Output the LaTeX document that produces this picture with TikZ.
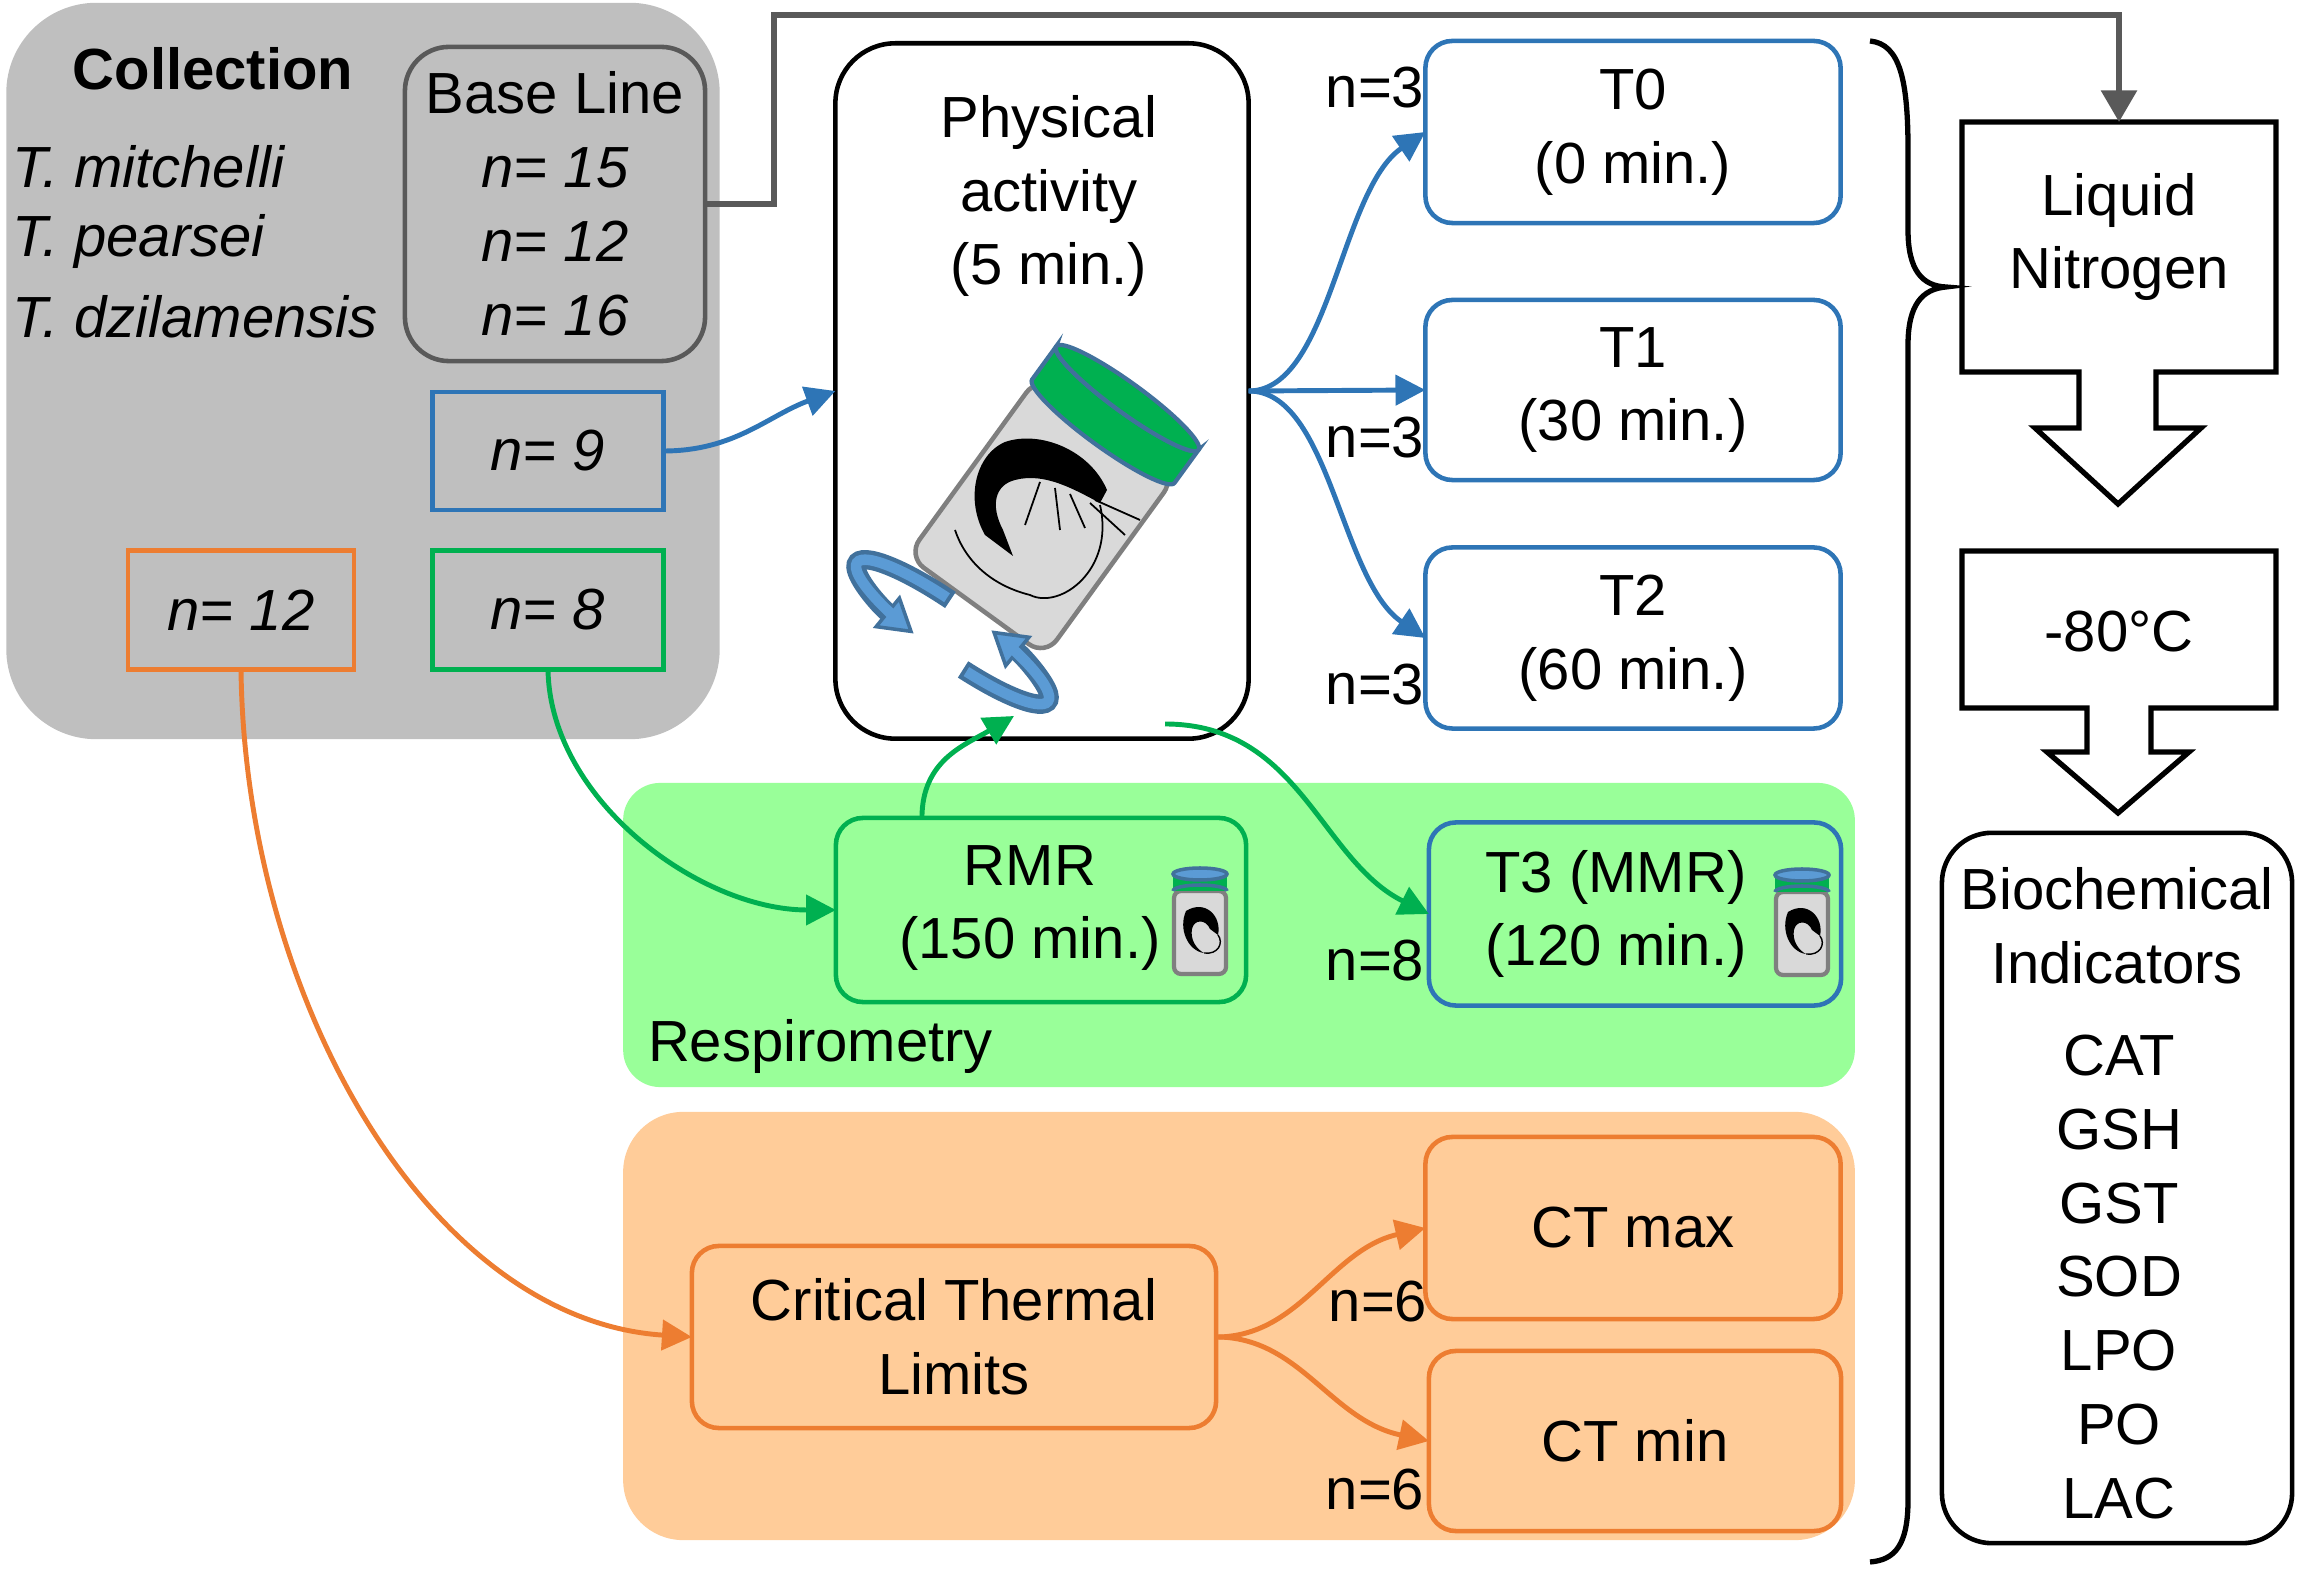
\documentclass[tikz,border=0pt]{standalone}
\usepackage{fontspec}
\setmainfont{Liberation Sans}
\setsansfont{Liberation Sans}
\usetikzlibrary{arrows.meta}
\definecolor{boxgray}{HTML}{BFBFBF}
\definecolor{linegray}{HTML}{595959}
\definecolor{ablue}{HTML}{2E75B6}
\definecolor{agreen}{HTML}{00B050}
\definecolor{aorange}{HTML}{ED7D31}
\definecolor{respgreen}{HTML}{99FF99}
\definecolor{ctorange}{HTML}{FFCC99}
\definecolor{jargray}{HTML}{D9D9D9}
\definecolor{jarrim}{HTML}{7F7F7F}
\definecolor{ringblue}{HTML}{5B9BD5}
\definecolor{ringedge}{HTML}{41719C}
\newcommand{\figfont}{\fontsize{16.5}{21}\selectfont}
\tikzset{every picture/.style={/utils/exec={\sffamily}},
	tbox/.style={draw=#1, line width=1.3pt, rounded corners=0.27cm, align=center},
	nbox/.style={draw=#1, line width=1.3pt, minimum width=2.31cm, minimum height=1.18cm},
	area/.style={fill=#1, draw=none},
	flow/.style={line width=1.4pt, draw=#1, -{Triangle[length=8.5pt,width=8.5pt]}},
	blockarrow/.style={line width=1.5pt, line join=miter},
	ringout/.style={ringedge, line width=5.5pt, -{Triangle[length=10pt,width=12pt,line width=1pt,fill=ringblue]}},
	ringin/.style={ringblue, line width=3pt},
	minijar/.pic={
		\draw[jarrim, fill=jargray, line width=1.2pt, rounded corners=2pt] (-26,-30) rectangle (26,53);
		\fill[agreen] (-27,-47) rectangle (27,-30);
		\draw[ringedge, line width=1pt] (-27,-30) arc[start angle=180, end angle=360, x radius=27, y radius=6];
		\draw[ringedge, fill=ringblue, line width=1pt] (0,-47) ellipse[x radius=27, y radius=6];
		\fill[black] (-14,-10) .. controls (5,-22) and (22,-5) .. (18,14) -- (10,8) .. controls (6,-2) and (-6,-2) .. (-8,8) .. controls (-10,18) and (-4,28) .. (4,32) .. controls (-12,30) and (-22,8) .. cycle;
		\draw[black, line width=0.4pt] (4,32) .. controls (18,34) and (24,22) .. (18,14);
	}
}

\begin{document}
\begin{tikzpicture}[x=0.01cm, y=-0.01cm, font=\figfont, every node/.style={inner sep=0pt, outer sep=0pt}]
		\useasboundingbox (0,0) rectangle (2303,1574);

		% collection
		\node[area=boxgray, rounded corners=0.9cm, minimum width=7.13cm, minimum height=7.36cm] (coll) at (363,371) {};
		\node (colltitle) at (213,69) {\textbf{Collection}};
		\node[anchor=west] (mitch) at (12,167) {\textit{T. mitchelli}};
		\node[anchor=west] (pears) at (12,242) {\textit{T. pearsei}};
		\node[anchor=west] (dzila) at (12,317) {\textit{T. dzilamensis}};
		\node[tbox=linegray, rounded corners=0.44cm, minimum width=3cm, minimum height=3.14cm] (base) at (555,204) {Base Line\\\textit{n= 15}\\\textit{n= 12}\\\textit{n= 16}};
		\node[nbox=ablue] (nnine) at (548,451) {\textit{n= 9}};
		\node[nbox=aorange, minimum width=2.26cm, minimum height=1.19cm] (ntwelve) at (241,610) {\textit{n= 12}};
		\node[nbox=agreen, minimum height=1.19cm] (neight) at (548,610) {\textit{n= 8}};

		% fondi
		\node[area=respgreen, rounded corners=0.37cm, minimum width=12.31cm, minimum height=3.04cm] (resp) at (1239,935) {};
		\node[anchor=west] (resplbl) at (648,1047) {Respirometry};
		\node[area=ctorange, rounded corners=0.6cm, minimum width=12.31cm, minimum height=4.28cm] (ctarea) at (1239,1326) {};

		% physical activity
		\node[tbox=black, rounded corners=0.6cm, minimum width=4.13cm, minimum height=6.95cm] (phys) at (1042,391) {};
		\node[align=center] (physlbl) at (1049,196) {Physical\\activity\\(5 min.)};

		% jar
		\begin{scope}[shift={(1041,517)}, rotate=-36, x=0.01cm, y=0.01cm]
			\draw[jarrim, fill=jargray, line width=1.3pt, rounded corners=0.2cm] (-85,-110) rectangle (85,112);
			\draw[ringedge, fill=agreen, line width=1.2pt] (-88,106) -- (-88,147) arc[start angle=180, end angle=360, x radius=88, y radius=15] -- (88,106) arc[start angle=0, end angle=-180, x radius=88, y radius=15] -- cycle;
			\draw[ringedge, fill=agreen, line width=1.2pt] (0,147) ellipse[x radius=88, y radius=15];
		\end{scope}
		% shrimp
		\fill[black] (1107,490) .. controls (1090,450) and (1040,430) .. (1005,442) .. controls (975,455) and (965,500) .. (985,535) -- (1013,556) -- (1003,530) .. controls (990,505) and (995,485) .. (1015,480) .. controls (1045,472) and (1075,490) .. (1100,503) -- cycle;
		\draw[black, line width=0.5pt] (1100,505) .. controls (1115,570) and (1060,610) .. (1030,595) .. controls (990,585) and (965,560) .. (955,530);
		\draw[black, line width=0.5pt] (1095,500) -- (1140,520) (1090,503) -- (1125,535) (1040,482) -- (1025,525) (1055,488) -- (1060,530) (1070,494) -- (1085,528) (1020,468) -- (1040,455) (1050,470) -- (1060,450);
		\begin{scope}[shift={(1041,517)}, rotate=-36, x=0.01cm, y=0.01cm]
			\draw[ringout] (-4,-145) ++(100:118 and 25) arc[start angle=100, end angle=255, x radius=118, y radius=25];
			\draw[ringin] (-4,-145) ++(102:118 and 25) arc[start angle=102, end angle=240, x radius=118, y radius=25];
			\draw[ringout] (-4,-145) ++(285:118 and 25) arc[start angle=285, end angle=435, x radius=118, y radius=25];
			\draw[ringin] (-4,-145) ++(287:118 and 25) arc[start angle=287, end angle=420, x radius=118, y radius=25];
		\end{scope}

		% tempi
		\node[tbox=ablue, minimum width=4.15cm, minimum height=1.82cm] (tzero) at (1633,132) {T0\\(0 min.)};
		\node[tbox=ablue, minimum width=4.15cm, minimum height=1.80cm] (tone) at (1633,390) {T1\\(30 min.)};
		\node[tbox=ablue, minimum width=4.15cm, minimum height=1.81cm] (ttwo) at (1633,638) {T2\\(60 min.)};
		\node (nzero) at (1375,88) {n=3};
		\node (none) at (1375,438) {n=3};
		\node (ntwo) at (1375,685) {n=3};

		% respirometria
		\node[tbox=agreen, minimum width=4.10cm, minimum height=1.84cm] (rmr) at (1041,910) {};
		\node[align=center] (rmrlbl) at (1030,908) {RMR\\(150 min.)};
		\pic (rmrjar) at (1200,921) {minijar};
		\node[tbox=ablue, minimum width=4.12cm, minimum height=1.83cm] (tthree) at (1635,914) {};
		\node[align=center] (tthreelbl) at (1616,914) {T3 (MMR)\\(120 min.)};
		\pic (tthreejar) at (1802,922) {minijar};
		\node (nthree) at (1375,961) {n=8};

		% limiti termici
		\node[tbox=aorange, minimum width=5.24cm, minimum height=1.82cm] (ctl) at (954,1337) {Critical Thermal\\Limits};
		\node[tbox=aorange, minimum width=4.15cm, minimum height=1.82cm] (ctmax) at (1633,1228) {CT max};
		\node[tbox=aorange, minimum width=4.12cm, minimum height=1.80cm] (ctmin) at (1635,1441) {CT min};
		\node (nmax) at (1378,1302) {n=6};
		\node (nmin) at (1375,1490) {n=6};

		% azoto liquido
		\node[align=center] (lnlbl) at (2119,237) {Liquid\\Nitrogen};
		\draw[blockarrow] (1962,122) -- (2276,122) -- (2276,372) -- (2156,372) -- (2156,428) -- (2201,428) -- (2118,504) -- (2035,428) -- (2079,428) -- (2079,372) -- (1962,372) -- cycle;
		\node (frzlbl) at (2119,632) {-80°C};
		\draw[blockarrow] (1962,551) -- (2276,551) -- (2276,708) -- (2151,708) -- (2151,752) -- (2189,752) -- (2118,813) -- (2047,752) -- (2087,752) -- (2087,708) -- (1962,708) -- cycle;
		\node[tbox=black, rounded corners=0.5cm, minimum width=3.5cm, minimum height=7.10cm] (bio) at (2117,1188) {};
		\node[align=center] (biohead) at (2117,926) {Biochemical\\Indicators};
		\node[align=center] (biolist) at (2119,1277) {CAT\\GSH\\GST\\SOD\\LPO\\PO\\LAC};

		% graffa
		\draw[line width=1.5pt] (1870,41) .. controls (1900,44) and (1908,80) .. (1908,150) -- (1908,230) .. controls (1908,270) and (1922,286) .. (1946,287) .. controls (1922,289) and (1908,305) .. (1908,345) -- (1908,1500) .. controls (1908,1545) and (1895,1560) .. (1870,1562);

		% frecce
		\coordinate (bend) at (774,15);
		\coordinate (lntop) at (2119,122);
		\coordinate (shakein) at (1014,716);
		\coordinate (shakeout) at (1165,724);
		\draw[line width=1.6pt, linegray, -{Triangle[length=9pt,width=10pt]}] (base.east) -| (bend) -| (lntop);

		\draw[flow=ablue] (nnine.east) to[out=0, in=200] (phys.west);
		\draw[flow=ablue] (phys.east) .. controls (1330,391) and (1340,190) .. (tzero.west);
		\draw[flow=ablue] (phys.east) -- (tone.west);
		\draw[flow=ablue] (phys.east) .. controls (1330,391) and (1340,580) .. (ttwo.west);

		\draw[flow=agreen] (neight.south) .. controls (550,800) and (700,910) .. (rmr.west);
		\draw[flow=agreen] ([xshift=-1.19cm]rmr.north) .. controls (922,760) and (965,745) .. (shakein);
		\draw[flow=agreen] (shakeout) .. controls (1300,724) and (1320,860) .. (tthree.west);

		\draw[flow=aorange] (ntwelve.south) .. controls (245,1000) and (430,1320) .. (ctl.west);
		\draw[flow=aorange] (ctl.east) .. controls (1300,1337) and (1330,1250) .. (ctmax.west);
		\draw[flow=aorange] (ctl.east) .. controls (1300,1337) and (1330,1420) .. (ctmin.west);
	\end{tikzpicture}
\end{document}
